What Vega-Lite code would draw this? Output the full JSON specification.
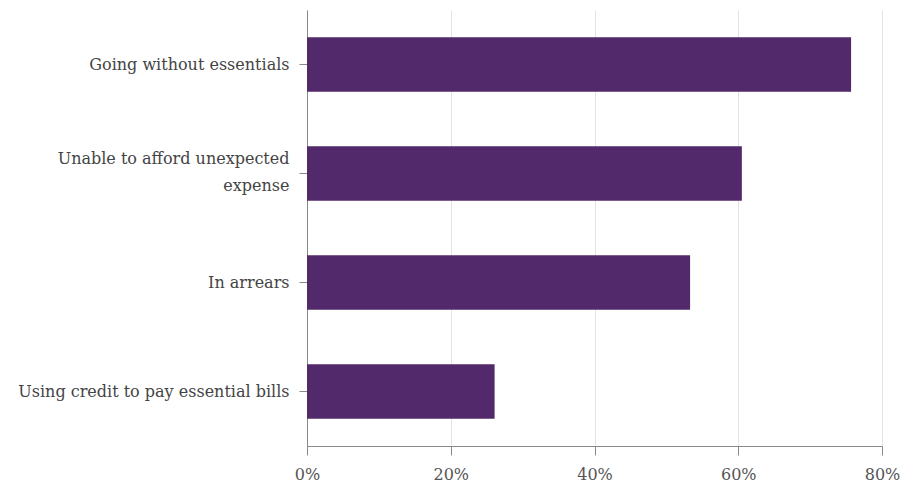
{
  "$schema": "https://vega.github.io/schema/vega-lite/v6.json",
  "autosize": "none",
  "width": 575,
  "height": 436,
  "padding": {"left": 307, "top": 10, "right": 24, "bottom": 48},
  "background": "white",
  "data": {
    "values": [
      {"category": "Going without essentials", "share": 0.757},
      {"category": "Unable to afford unexpected expense", "share": 0.605},
      {"category": "In arrears", "share": 0.533},
      {"category": "Using credit to pay essential bills", "share": 0.261}
    ]
  },
  "mark": {"type": "bar", "color": "#52296a"},
  "encoding": {
    "y": {
      "field": "category",
      "type": "nominal",
      "sort": null,
      "scale": {"paddingInner": 0.5, "paddingOuter": 0.25},
      "axis": {
        "title": null,
        "labelFont": "DejaVu Serif",
        "labelFontSize": 16,
        "labelColor": "#444444",
        "labelPadding": 10,
        "labelLineHeight": 27,
        "labelLimit": 400,
        "labelOffset": {"condition": {"test": "datum.value == 'Unable to afford unexpected expense'", "value": -15}, "value": 0},
        "tickSize": 8,
        "tickColor": "#888888",
        "domainColor": "#888888",
        "labelExpr": "datum.label == 'Unable to afford unexpected expense' ? ['Unable to afford unexpected', 'expense'] : datum.label"
      }
    },
    "x": {
      "field": "share",
      "type": "quantitative",
      "scale": {"domain": [0, 0.8], "nice": false},
      "axis": {
        "title": null,
        "format": ".0%",
        "values": [0, 0.2, 0.4, 0.6, 0.8],
        "labelFont": "DejaVu Serif",
        "labelFontSize": 16,
        "labelColor": "#555555",
        "labelPadding": 11,
        "tickSize": 9,
        "tickColor": "#888888",
        "domainColor": "#888888",
        "gridColor": "#e3e3e3",
        "labelFlush": false
      }
    }
  },
  "config": {"view": {"stroke": null}}
}
